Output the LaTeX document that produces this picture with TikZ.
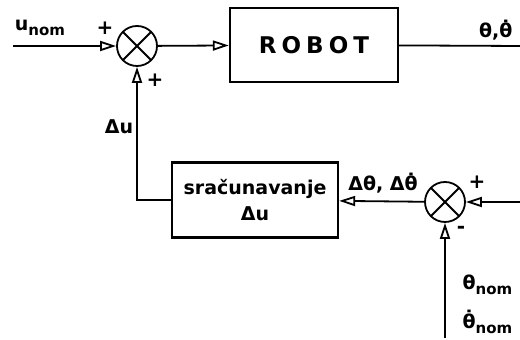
\documentclass[tikz,border=0pt]{standalone}
\usepackage{fontspec}
\setmainfont{DejaVu Sans}
\usetikzlibrary{arrows.meta}
\newcommand{\nomsub}{\raisebox{-0.5ex}{\fontsize{7.5}{8}\selectfont nom}}

\begin{document}
\begin{tikzpicture}[x=0.5pt, y=-0.5pt,
    font=\bfseries\fontsize{9.5}{11}\selectfont,
    line width=0.9pt,
    sumnode/.style={draw, circle, minimum size=20pt, inner sep=0pt,
      path picture={\draw (path picture bounding box.north west) -- (path picture bounding box.south east)
        (path picture bounding box.north east) -- (path picture bounding box.south west);}},
    blockbox/.style={draw, line width=1.2pt, inner sep=0pt, align=center},
    sig/.style={-{Triangle[open, length=8pt, width=5pt]}},
    sign/.style={font=\bfseries\fontsize{10}{10}\selectfont}]
    \useasboundingbox (0,0) rectangle (520,340);

    % Forward path
    \coordinate (uin) at (13,46);
    \node[sumnode] (sum1) at (137,46) {};
    \node[blockbox, minimum width=84pt, minimum height=37pt, font=\bfseries\fontsize{11.5}{12}\selectfont] (robot) at (314,45)
      {R\hspace{2.5pt}O\hspace{2.5pt}B\hspace{2.5pt}O\hspace{2.5pt}T};
    \coordinate (yout) at (520,46);
    \draw[sig] (uin) -- (sum1);
    \draw[sig] (sum1) -- (robot);
    \draw (robot) -- (yout);

    % Feedback path
    \coordinate (rin) at (520,202);
    \coordinate (thnom) at (445,338);
    \node[sumnode] (sum2) at (445,202) {};
    \node[blockbox, minimum width=83pt, minimum height=37.5pt, font=\bfseries\fontsize{9.5}{13}\selectfont] (calc) at (255,200)
      {sračunavanje\\Δu};
    \draw[sig] (rin) -- (sum2);
    \draw[sig] (sum2) -- (calc);
    \draw[sig] (thnom) -- (sum2);
    \draw[sig] (calc.west) -| (sum1.south);

    % Labels
    \node (unom) at (40,28) {u\nomsub};
    \node[sign] (p1) at (105,28) {+};
    \node[sign] (p2) at (155,80) {+};
    \node (du) at (119,127) {Δu};
    \node[anchor=east] (out) at (520,30) {θ,θ̇};
    \node (dth) at (383,183) {Δθ, Δθ̇};
    \node[sign] (p3) at (477,182) {+};
    \node[sign] (m1) at (461,230) {-};
    \node[anchor=west] (thn) at (455,285) {θ\nomsub};
    \node[anchor=west] (thdn) at (455,322) {θ̇\nomsub};
\end{tikzpicture}
\end{document}
